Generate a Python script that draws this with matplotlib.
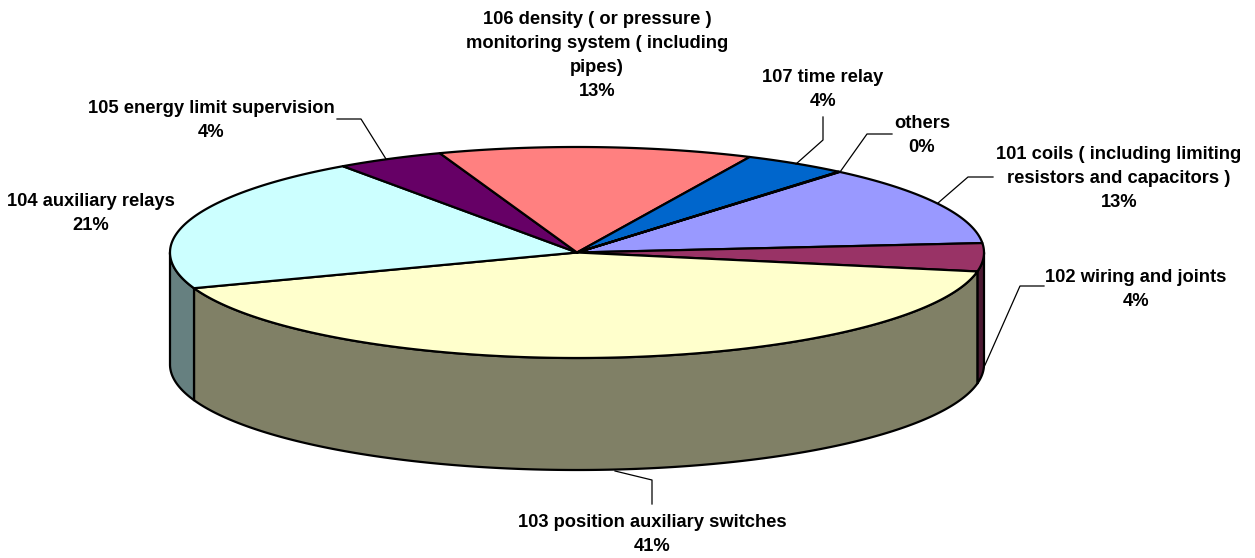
import matplotlib
matplotlib.use("Agg")
import matplotlib.pyplot as plt
import numpy as np
from matplotlib.patches import Polygon

names = ["101 coils ( including limiting\nresistors and capacitors )",
         "102 wiring and joints",
         "103 position auxiliary switches",
         "104 auxiliary relays",
         "105 energy limit supervision",
         "106 density ( or pressure )\nmonitoring system ( including\npipes)",
         "107 time relay",
         "others"]
values = [12.41, 4.3, 41.63, 20.74, 4.28, 12.45, 4.14, 0.05]
pct_labels = ["13%", "4%", "41%", "21%", "4%", "13%", "4%", "0%"]
top_colors = ["#9999FF", "#993366", "#FFFFCC", "#CCFFFF", "#660066", "#FF8080", "#0066CC", "#FFFFFF"]
side_colors = ["#4C4C80", "#4C1A33", "#808066", "#668080", "#330033", "#804040", "#003366", "#808080"]

# centre of the first text line of each label
label_pos = [(1119, 153), (1136, 276), (652, 521), (91, 200), (211, 107), (597, 18), (823, 76), (922, 122)]
leaders = [[(938, 203), (968, 177), (993, 177)],
           [(985, 365), (1020, 286), (1044, 286)],
           [(615, 471), (652, 480), (652, 504)],
           None,
           [(386, 159), (361, 119), (337, 119)],
           None,
           [(796, 164), (823, 140), (823, 117)],
           [(840, 172), (867, 134), (892, 134)]]

# pie geometry in image pixels
cx, cy = 577, 252.5
rx, ry = 407, 105.5
depth = 112
start_angle = 49.8


def rim(a0, a1, dy=0):
    t = np.radians(np.linspace(a0, a1, max(int(abs(a1 - a0) * 3), 2)))
    return np.column_stack([cx + rx * np.cos(t), cy - ry * np.sin(t) + dy])


fig = plt.figure(figsize=(12.55, 5.58), dpi=100)
ax = fig.add_axes([0, 0, 1, 1])
ax.set_xlim(0, 1255)
ax.set_ylim(558, 0)
ax.axis("off")

shares = np.array(values) / sum(values) * 360
ends = start_angle - np.cumsum(shares)
starts = ends + shares

# walls: only the part of a slice facing the viewer (-180..0 deg)
for a0, a1, col in zip(starts, ends, side_colors):
    hi = min(a0, 0)
    lo = max(a1, -180)
    if hi > lo:
        pts = np.vstack([rim(hi, lo), rim(lo, hi, depth)])
        ax.add_patch(Polygon(pts, closed=True, fc=col, ec="black", lw=1.6,
                             joinstyle="round", zorder=2))

# top face
for a0, a1, col in zip(starts, ends, top_colors):
    pts = np.vstack([[cx, cy], rim(a0, a1)])
    ax.add_patch(Polygon(pts, closed=True, fc=col, ec="black", lw=1.6,
                         joinstyle="round", zorder=3))

for leader in leaders:
    if leader:
        xs, ys = zip(*leader)
        ax.plot(xs, ys, color="black", lw=0.9, zorder=4)

for name, pct, (x, y) in zip(names, pct_labels, label_pos):
    ax.text(x, y - 7, name + "\n" + pct, ha="center", va="top", ma="center",
            family="Liberation Sans", fontweight="bold", fontsize=13.25,
            linespacing=1.53, color="black", zorder=5)

fig.savefig("out.png", dpi=100, facecolor="white")
